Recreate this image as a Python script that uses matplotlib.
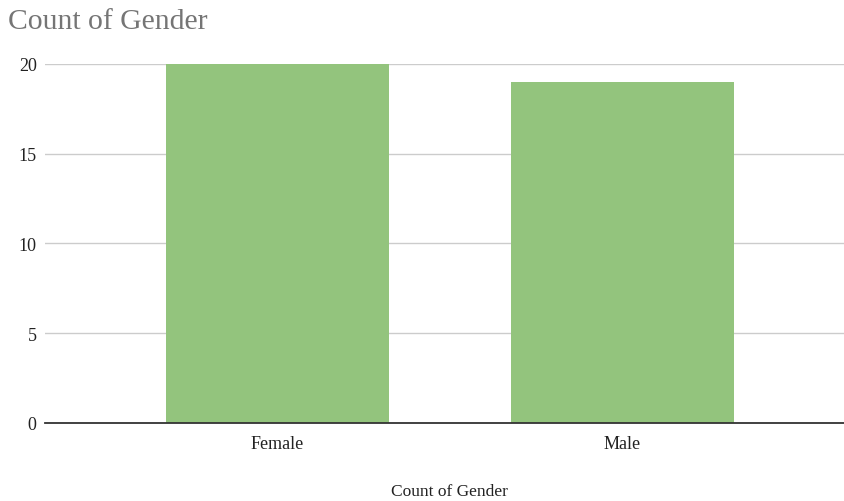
import matplotlib
matplotlib.use("Agg")
import matplotlib.pyplot as plt

genders = ["Female", "Male"]
counts = [20, 19]
y_ticks = [0, 5, 10, 15, 20]

plt.rcParams["font.family"] = ["Liberation Serif", "DejaVu Serif"]

fig = plt.figure(figsize=(8.44, 5.02), dpi=100)
ax = fig.add_axes([0.0533, 0.1554, 0.9467, 0.7157])

x = range(len(genders))
ax.bar(x, counts, width=0.648, color="#93c47d", zorder=3, clip_on=False)

ax.set_xlim(-0.674, 1.643)
ax.set_ylim(0, 20)
ax.set_yticks(y_ticks)
ax.set_xticks(list(x))
ax.set_xticklabels(genders)
ax.tick_params(axis="both", length=0, labelsize=13, colors="#222222")
ax.tick_params(axis="y", pad=6)
ax.tick_params(axis="x", pad=9)

ax.grid(axis="y", color="#cccccc", linewidth=1, zorder=0)
for side in ["top", "right", "left"]:
    ax.spines[side].set_visible(False)
ax.spines["bottom"].set_color("#333333")
ax.spines["bottom"].set_linewidth(1.3)
ax.spines["bottom"].set_zorder(4)

# axis title sits near the bottom edge, centred under the plot
fig.text(0.532, 0.02, "Count of Gender", fontsize=12.5, color="#222222",
         ha="center", va="center")
fig.text(0.0095, 0.957, "Count of Gender", fontsize=21.3, color="#757575",
         ha="left", va="center")

fig.savefig("out.png", dpi=100)
